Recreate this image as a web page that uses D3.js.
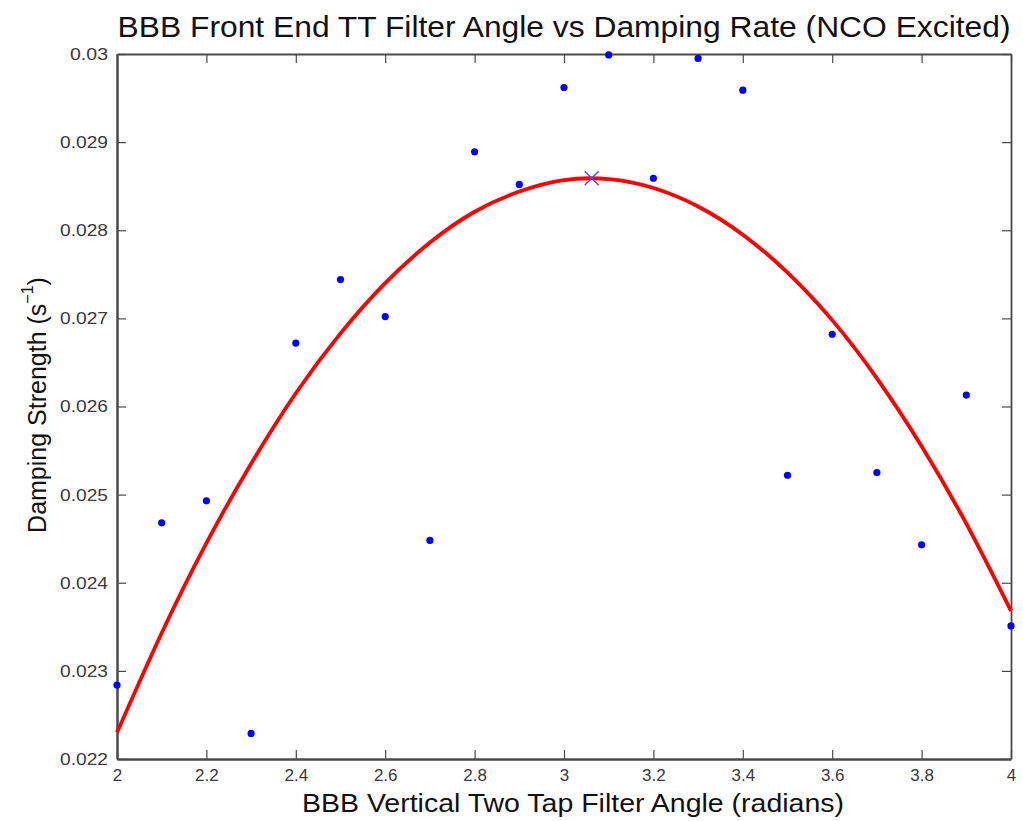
<!DOCTYPE html>
<html>
<head>
<meta charset="utf-8">
<script src="https://cdn.jsdelivr.net/npm/d3@7"></script>
<style>
  html, body { margin: 0; padding: 0; background: #fff; }
  svg { display: block; font-family: "Liberation Sans", Arial, Helvetica, sans-serif; }
</style>
</head>
<body>
<svg id="chart" width="1023" height="821"></svg>
<script>
// ---- Data ----
const angles = [2.0, 2.1, 2.2, 2.3, 2.4, 2.5, 2.6, 2.7, 2.8, 2.9, 3.0, 3.1, 3.2, 3.3, 3.4, 3.5, 3.6, 3.7, 3.8, 3.9, 4.0];
const damping = [0.02284, 0.02468, 0.02493, 0.02229, 0.02672, 0.02744, 0.02702, 0.02448, 0.02889, 0.02852,
                 0.02962, 0.02999, 0.02859, 0.02995, 0.02959, 0.02522, 0.02682, 0.02525, 0.02443, 0.02613, 0.02351];
// quadratic fit curve
const fitAngles = [2.0, 2.1, 2.2, 2.3, 2.4, 2.5, 2.6, 2.7, 2.8, 2.9, 3.0, 3.1, 3.2, 3.3, 3.4, 3.5, 3.6, 3.7, 3.8, 3.9, 4.0];
const fitValues = [0.02230, 0.02343, 0.02445, 0.02535, 0.02615, 0.02683, 0.02740, 0.02786, 0.02821, 0.02844,
                   0.02857, 0.02858, 0.02848, 0.02827, 0.02795, 0.02752, 0.02698, 0.02632, 0.02555, 0.02467, 0.02368];
const peak = [3.062, 0.02859];
const xTicks = [2, 2.2, 2.4, 2.6, 2.8, 3, 3.2, 3.4, 3.6, 3.8, 4];
const xTickLabels = ["2", "2.2", "2.4", "2.6", "2.8", "3", "3.2", "3.4", "3.6", "3.8", "4"];
const yTicks = [0.022, 0.023, 0.024, 0.025, 0.026, 0.027, 0.028, 0.029, 0.030];
const yTickLabels = ["0.022", "0.023", "0.024", "0.025", "0.026", "0.027", "0.028", "0.029", "0.03"];
const titleText = "BBB Front End TT Filter Angle vs Damping Rate (NCO Excited)";
const xLabelText = "BBB Vertical Two Tap Filter Angle (radians)";

// ---- Layout ----
const W = 1023, H = 821;
const m = { left: 117, right: 12, top: 54, bottom: 62 };
const pw = W - m.left - m.right, ph = H - m.top - m.bottom;

const svg = d3.select("#chart");
const g = svg.append("g").attr("transform", `translate(${m.left},${m.top})`);

const x = d3.scaleLinear().domain([2, 4]).range([0, pw]);
const y = d3.scaleLinear().domain([0.022, 0.030]).range([ph, 0]);

const axisColor = "#4a4a4a";
const tickLen = 9;

function styleAxis(sel, w) {
  sel.select(".domain").attr("stroke", axisColor).attr("stroke-width", w);
  sel.selectAll(".tick line").attr("stroke", axisColor).attr("stroke-width", 1.2);
  sel.selectAll(".tick text").attr("fill", "#3a3a3a").style("font-size", "17px")
     .style("font-family", "'Liberation Sans', Arial, Helvetica, sans-serif");
}

// bottom axis
const xb = g.append("g").attr("transform", `translate(0,${ph})`)
  .call(d3.axisBottom(x).tickValues(xTicks).tickFormat((d, i) => xTickLabels[i])
        .tickSizeInner(-tickLen).tickSizeOuter(0).tickPadding(10));
styleAxis(xb, 2.5);
// top axis
const xt = g.append("g")
  .call(d3.axisTop(x).tickValues(xTicks).tickFormat("").tickSizeInner(-tickLen).tickSizeOuter(0));
styleAxis(xt, 1.8);
// left axis
const yl = g.append("g")
  .call(d3.axisLeft(y).tickValues(yTicks).tickFormat((d, i) => yTickLabels[i])
        .tickSizeInner(-tickLen).tickSizeOuter(0).tickPadding(9));
styleAxis(yl, 2.5);
yl.selectAll(".tick text").attr("textLength", function () { return this.textContent.length === 4 ? 38 : 48; })
  .attr("lengthAdjust", "spacingAndGlyphs");
// right axis
const yr = g.append("g").attr("transform", `translate(${pw},0)`)
  .call(d3.axisRight(y).tickValues(yTicks).tickFormat("").tickSizeInner(-tickLen).tickSizeOuter(0));
styleAxis(yr, 1.8);

// fit curve
const fitData = fitAngles.map((a, i) => [a, fitValues[i]]);
g.append("path")
  .datum(fitData)
  .attr("fill", "none")
  .attr("stroke", "#ff0000")
  .attr("stroke-width", 3.8)
  .attr("d", d3.line().x(d => x(d[0])).y(d => y(d[1])).curve(d3.curveNatural));

// data points
g.selectAll("circle.pt")
  .data(angles.map((a, i) => [a, damping[i]]))
  .join("circle")
  .attr("class", "pt")
  .attr("cx", d => x(d[0]))
  .attr("cy", d => y(d[1]))
  .attr("r", 3.6)
  .attr("fill", "#0000ff");

// peak marker (x)
const s = 7;
const px = x(peak[0]), py = y(peak[1]);
g.append("path")
  .attr("d", `M${px - s},${py - s}L${px + s},${py + s}M${px - s},${py + s}L${px + s},${py - s}`)
  .attr("stroke", "#4a4aff")
  .attr("stroke-width", 1.4)
  .attr("fill", "none");

// title
svg.append("text")
  .attr("x", m.left + pw / 2)
  .attr("y", 37)
  .attr("text-anchor", "middle")
  .attr("fill", "#111")
  .style("font-size", "30px")
  .attr("textLength", 893)
  .attr("lengthAdjust", "spacingAndGlyphs")
  .text(titleText);

// x label
svg.append("text")
  .attr("x", 573)
  .attr("y", 812)
  .attr("text-anchor", "middle")
  .attr("fill", "#111")
  .style("font-size", "25px")
  .attr("textLength", 542)
  .attr("lengthAdjust", "spacingAndGlyphs")
  .text(xLabelText);

// y label with superscript
const yl2 = svg.append("text")
  .attr("transform", `translate(46,405) rotate(-90)`)
  .attr("text-anchor", "middle")
  .attr("fill", "#111")
  .style("font-size", "25px");
yl2.append("tspan").text("Damping Strength (s");
yl2.append("tspan").attr("dy", -13).style("font-size", "16px").text("\u22121");
yl2.append("tspan").attr("dy", 13).text(")");
</script>
</body>
</html>
